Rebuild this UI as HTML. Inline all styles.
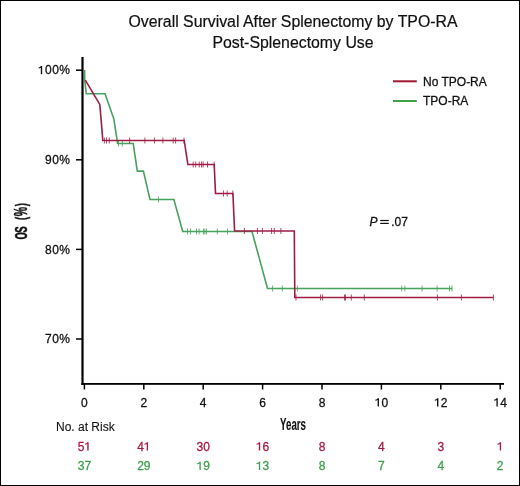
<!DOCTYPE html>
<html><head><meta charset="utf-8"><title>Overall Survival After Splenectomy by TPO-RA</title>
<style>
html,body{margin:0;padding:0;background:#fff;}
body{width:520px;height:486px;overflow:hidden;}
svg{display:block;font-family:"Liberation Sans",sans-serif;will-change:transform;}
</style></head><body>
<svg width="520" height="486" viewBox="0 0 520 486"><rect x="0" y="0" width="520" height="486" fill="#fff"/><rect x="0.5" y="0.5" width="519" height="485" fill="none" stroke="#000" stroke-width="1"/><text x="293" y="27.3" font-size="15.85" text-anchor="middle" fill="#111" stroke="#111" stroke-width="0.2">Overall Survival After Splenectomy by TPO-RA</text><text x="293" y="47.5" font-size="15.85" text-anchor="middle" fill="#111" stroke="#111" stroke-width="0.2">Post-Splenectomy Use</text><rect x="81.4" y="57" width="2.2" height="328" fill="#000"/><rect x="81.4" y="383" width="422.6" height="1.8" fill="#000"/><rect x="76" y="69.45" width="6" height="1.5" fill="#000"/><path d="M2.9,-8.3 L4.25,-8.3 L4.25,0 L2.9,0 L2.9,-6.5 C2.3,-6.0 1.5,-5.8 0.7,-5.8 L0.7,-6.9 C1.8,-7.0 2.6,-7.5 2.9,-8.3 Z" fill="#111" transform="translate(37.92 74.3) scale(1.0)"/><text x="45.04" y="74.3" font-size="12" letter-spacing="0.45" fill="#111" stroke="#111" stroke-width="0.28">00%</text><rect x="76" y="159.05" width="6" height="1.5" fill="#000"/><text x="45.04" y="163.9" font-size="12" letter-spacing="0.45" fill="#111" stroke="#111" stroke-width="0.28">90%</text><rect x="76" y="248.65" width="6" height="1.5" fill="#000"/><text x="45.04" y="253.5" font-size="12" letter-spacing="0.45" fill="#111" stroke="#111" stroke-width="0.28">80%</text><rect x="76" y="338.25" width="6" height="1.5" fill="#000"/><text x="45.04" y="343.1" font-size="12" letter-spacing="0.45" fill="#111" stroke="#111" stroke-width="0.28">70%</text><rect x="83.65" y="384" width="1.5" height="5.5" fill="#000"/><text x="81.06" y="406.5" font-size="12" fill="#111" stroke="#111" stroke-width="0.28">0</text><rect x="143.05" y="384" width="1.5" height="5.5" fill="#000"/><text x="140.46" y="406.5" font-size="12" fill="#111" stroke="#111" stroke-width="0.28">2</text><rect x="202.45" y="384" width="1.5" height="5.5" fill="#000"/><text x="199.86" y="406.5" font-size="12" fill="#111" stroke="#111" stroke-width="0.28">4</text><rect x="261.85" y="384" width="1.5" height="5.5" fill="#000"/><text x="259.26" y="406.5" font-size="12" fill="#111" stroke="#111" stroke-width="0.28">6</text><rect x="321.25" y="384" width="1.5" height="5.5" fill="#000"/><text x="318.66" y="406.5" font-size="12" fill="#111" stroke="#111" stroke-width="0.28">8</text><rect x="380.65" y="384" width="1.5" height="5.5" fill="#000"/><path d="M2.9,-8.3 L4.25,-8.3 L4.25,0 L2.9,0 L2.9,-6.5 C2.3,-6.0 1.5,-5.8 0.7,-5.8 L0.7,-6.9 C1.8,-7.0 2.6,-7.5 2.9,-8.3 Z" fill="#111" transform="translate(374.73 406.5) scale(1.0)"/><text x="381.40" y="406.5" font-size="12" fill="#111" stroke="#111" stroke-width="0.28">0</text><rect x="440.04999999999995" y="384" width="1.5" height="5.5" fill="#000"/><path d="M2.9,-8.3 L4.25,-8.3 L4.25,0 L2.9,0 L2.9,-6.5 C2.3,-6.0 1.5,-5.8 0.7,-5.8 L0.7,-6.9 C1.8,-7.0 2.6,-7.5 2.9,-8.3 Z" fill="#111" transform="translate(434.13 406.5) scale(1.0)"/><text x="440.80" y="406.5" font-size="12" fill="#111" stroke="#111" stroke-width="0.28">2</text><rect x="499.45000000000005" y="384" width="1.5" height="5.5" fill="#000"/><path d="M2.9,-8.3 L4.25,-8.3 L4.25,0 L2.9,0 L2.9,-6.5 C2.3,-6.0 1.5,-5.8 0.7,-5.8 L0.7,-6.9 C1.8,-7.0 2.6,-7.5 2.9,-8.3 Z" fill="#111" transform="translate(493.53 406.5) scale(1.0)"/><text x="500.20" y="406.5" font-size="12" fill="#111" stroke="#111" stroke-width="0.28">4</text><text x="293" y="430.3" font-size="15.6" font-weight="bold" text-anchor="middle" fill="#111" stroke="#111" stroke-width="0.12" transform="translate(293 0) scale(0.62 1) translate(-293 0)">Years</text><text x="0" y="0" font-size="15.6" font-weight="bold" letter-spacing="1.7" fill="#111" stroke="#111" stroke-width="0.5" transform="translate(27.2 239.6) rotate(-90) scale(0.6 1)">O<tspan dx="-2.2" font-size="16.2">S</tspan><tspan dx="2.5"> (</tspan><tspan dx="-0.6" font-size="17.5">%</tspan><tspan dx="-0.8">)</tspan></text><text x="369.5" y="225.9" font-size="12" font-style="italic" fill="#111" stroke="#111" stroke-width="0.28">P</text><rect x="380.2" y="219.9" width="8.6" height="1.2" fill="#111"/><rect x="380.2" y="222.8" width="8.6" height="1.2" fill="#111"/><text x="391.2" y="225.9" font-size="12" fill="#111" stroke="#111" stroke-width="0.28">.07</text><line x1="393" y1="81.3" x2="416.8" y2="81.3" stroke="#a0172f" stroke-width="2"/><line x1="393" y1="101" x2="416.8" y2="101" stroke="#3fa249" stroke-width="2"/><text x="423" y="85.9" font-size="12" fill="#111" stroke="#111" stroke-width="0.28">No TPO-RA</text><text x="423" y="105" font-size="12" fill="#111" stroke="#111" stroke-width="0.28">TPO-RA</text><polyline points="84.6,70.0 84.7,79.6 86.3,93.8 105.0,93.8 113.8,118.8 117.6,143.5 133.2,143.5 137.3,171.1 143.4,171.1 150.0,199.5 173.9,199.5 182.7,231.5 252.0,231.5 267.5,288.5 452.0,288.5" fill="none" stroke="#48a25e" stroke-width="1.6" stroke-linejoin="miter"/><g stroke="#48a25e" stroke-width="1.0" opacity="0.8"><line x1="118.5" y1="140.5" x2="118.5" y2="146.5"/><line x1="122.4" y1="140.5" x2="122.4" y2="146.5"/><line x1="158.5" y1="196.5" x2="158.5" y2="202.5"/><line x1="187.5" y1="228.5" x2="187.5" y2="234.5"/><line x1="190.5" y1="228.5" x2="190.5" y2="234.5"/><line x1="196.5" y1="228.5" x2="196.5" y2="234.5"/><line x1="199.1" y1="228.5" x2="199.1" y2="234.5"/><line x1="203.5" y1="228.5" x2="203.5" y2="234.5"/><line x1="204.9" y1="228.5" x2="204.9" y2="234.5"/><line x1="206.6" y1="228.5" x2="206.6" y2="234.5"/><line x1="217.3" y1="228.5" x2="217.3" y2="234.5"/><line x1="227.5" y1="228.5" x2="227.5" y2="234.5"/><line x1="272.6" y1="285.5" x2="272.6" y2="291.5"/><line x1="282.4" y1="285.5" x2="282.4" y2="291.5"/><line x1="297.4" y1="285.5" x2="297.4" y2="291.5"/><line x1="401.7" y1="285.5" x2="401.7" y2="291.5"/><line x1="404.8" y1="285.5" x2="404.8" y2="291.5"/><line x1="422.1" y1="285.5" x2="422.1" y2="291.5"/><line x1="437.1" y1="285.5" x2="437.1" y2="291.5"/><line x1="449.5" y1="285.5" x2="449.5" y2="291.5"/><line x1="452" y1="285.5" x2="452" y2="291.5"/></g><polyline points="85.3,80.2 99.8,104.4 101.4,123.1 102.8,140.5 184.2,140.5 187.9,164.5 214.2,164.5 215.5,193.5 232.9,193.5 234.6,231.0 294.3,231.0 294.8,297.5 493.5,297.5" fill="none" stroke="#a01c45" stroke-width="1.6" stroke-linejoin="miter"/><g stroke="#a01c45" stroke-width="1.0" opacity="0.8"><line x1="104.4" y1="137.5" x2="104.4" y2="143.5"/><line x1="106.5" y1="137.5" x2="106.5" y2="143.5"/><line x1="109.3" y1="137.5" x2="109.3" y2="143.5"/><line x1="129.6" y1="137.5" x2="129.6" y2="143.5"/><line x1="144.9" y1="137.5" x2="144.9" y2="143.5"/><line x1="154.4" y1="137.5" x2="154.4" y2="143.5"/><line x1="162.9" y1="137.5" x2="162.9" y2="143.5"/><line x1="173.2" y1="137.5" x2="173.2" y2="143.5"/><line x1="175.6" y1="137.5" x2="175.6" y2="143.5"/><line x1="184.0" y1="137.5" x2="184.0" y2="143.5"/><line x1="193.2" y1="161.5" x2="193.2" y2="167.5"/><line x1="195.7" y1="161.5" x2="195.7" y2="167.5"/><line x1="199.2" y1="161.5" x2="199.2" y2="167.5"/><line x1="201.5" y1="161.5" x2="201.5" y2="167.5"/><line x1="203.1" y1="161.5" x2="203.1" y2="167.5"/><line x1="207.5" y1="161.5" x2="207.5" y2="167.5"/><line x1="214.2" y1="161.5" x2="214.2" y2="167.5"/><line x1="223.5" y1="190.5" x2="223.5" y2="196.5"/><line x1="227.2" y1="190.5" x2="227.2" y2="196.5"/><line x1="232.8" y1="190.5" x2="232.8" y2="196.5"/><line x1="244.4" y1="228" x2="244.4" y2="234"/><line x1="257.4" y1="228" x2="257.4" y2="234"/><line x1="262.4" y1="228" x2="262.4" y2="234"/><line x1="271.6" y1="228" x2="271.6" y2="234"/><line x1="274.3" y1="228" x2="274.3" y2="234"/><line x1="280.9" y1="228" x2="280.9" y2="234"/><line x1="296" y1="294.5" x2="296" y2="300.5"/><line x1="320.6" y1="294.5" x2="320.6" y2="300.5"/><line x1="322.6" y1="294.5" x2="322.6" y2="300.5"/><line x1="344.5" y1="294.5" x2="344.5" y2="300.5"/><line x1="345.5" y1="294.5" x2="345.5" y2="300.5"/><line x1="351.3" y1="294.5" x2="351.3" y2="300.5"/><line x1="364.3" y1="294.5" x2="364.3" y2="300.5"/><line x1="437.4" y1="294.5" x2="437.4" y2="300.5"/><line x1="461.4" y1="294.5" x2="461.4" y2="300.5"/><line x1="493.4" y1="294.5" x2="493.4" y2="300.5"/></g><text x="56" y="431.1" font-size="12" fill="#111" stroke="#111" stroke-width="0.1">No. at Risk</text><text x="77.73" y="450.5" font-size="12" fill="#a8183f" stroke="#a8183f" stroke-width="0.28">5</text><path d="M2.9,-8.3 L4.25,-8.3 L4.25,0 L2.9,0 L2.9,-6.5 C2.3,-6.0 1.5,-5.8 0.7,-5.8 L0.7,-6.9 C1.8,-7.0 2.6,-7.5 2.9,-8.3 Z" fill="#a8183f" transform="translate(84.40 450.5) scale(1.0)"/><text x="77.73" y="470" font-size="12" fill="#3da14f" stroke="#3da14f" stroke-width="0.28">37</text><text x="137.13" y="450.5" font-size="12" fill="#a8183f" stroke="#a8183f" stroke-width="0.28">4</text><path d="M2.9,-8.3 L4.25,-8.3 L4.25,0 L2.9,0 L2.9,-6.5 C2.3,-6.0 1.5,-5.8 0.7,-5.8 L0.7,-6.9 C1.8,-7.0 2.6,-7.5 2.9,-8.3 Z" fill="#a8183f" transform="translate(143.80 450.5) scale(1.0)"/><text x="137.13" y="470" font-size="12" fill="#3da14f" stroke="#3da14f" stroke-width="0.28">29</text><text x="196.53" y="450.5" font-size="12" fill="#a8183f" stroke="#a8183f" stroke-width="0.28">30</text><path d="M2.9,-8.3 L4.25,-8.3 L4.25,0 L2.9,0 L2.9,-6.5 C2.3,-6.0 1.5,-5.8 0.7,-5.8 L0.7,-6.9 C1.8,-7.0 2.6,-7.5 2.9,-8.3 Z" fill="#3da14f" transform="translate(196.53 470) scale(1.0)"/><text x="203.20" y="470" font-size="12" fill="#3da14f" stroke="#3da14f" stroke-width="0.28">9</text><path d="M2.9,-8.3 L4.25,-8.3 L4.25,0 L2.9,0 L2.9,-6.5 C2.3,-6.0 1.5,-5.8 0.7,-5.8 L0.7,-6.9 C1.8,-7.0 2.6,-7.5 2.9,-8.3 Z" fill="#a8183f" transform="translate(255.93 450.5) scale(1.0)"/><text x="262.60" y="450.5" font-size="12" fill="#a8183f" stroke="#a8183f" stroke-width="0.28">6</text><path d="M2.9,-8.3 L4.25,-8.3 L4.25,0 L2.9,0 L2.9,-6.5 C2.3,-6.0 1.5,-5.8 0.7,-5.8 L0.7,-6.9 C1.8,-7.0 2.6,-7.5 2.9,-8.3 Z" fill="#3da14f" transform="translate(255.93 470) scale(1.0)"/><text x="262.60" y="470" font-size="12" fill="#3da14f" stroke="#3da14f" stroke-width="0.28">3</text><text x="318.66" y="450.5" font-size="12" fill="#a8183f" stroke="#a8183f" stroke-width="0.28">8</text><text x="318.66" y="470" font-size="12" fill="#3da14f" stroke="#3da14f" stroke-width="0.28">8</text><text x="378.06" y="450.5" font-size="12" fill="#a8183f" stroke="#a8183f" stroke-width="0.28">4</text><text x="378.06" y="470" font-size="12" fill="#3da14f" stroke="#3da14f" stroke-width="0.28">7</text><text x="437.46" y="450.5" font-size="12" fill="#a8183f" stroke="#a8183f" stroke-width="0.28">3</text><text x="437.46" y="470" font-size="12" fill="#3da14f" stroke="#3da14f" stroke-width="0.28">4</text><path d="M2.9,-8.3 L4.25,-8.3 L4.25,0 L2.9,0 L2.9,-6.5 C2.3,-6.0 1.5,-5.8 0.7,-5.8 L0.7,-6.9 C1.8,-7.0 2.6,-7.5 2.9,-8.3 Z" fill="#a8183f" transform="translate(496.86 450.5) scale(1.0)"/><text x="496.86" y="470" font-size="12" fill="#3da14f" stroke="#3da14f" stroke-width="0.28">2</text></svg>
</body></html>
